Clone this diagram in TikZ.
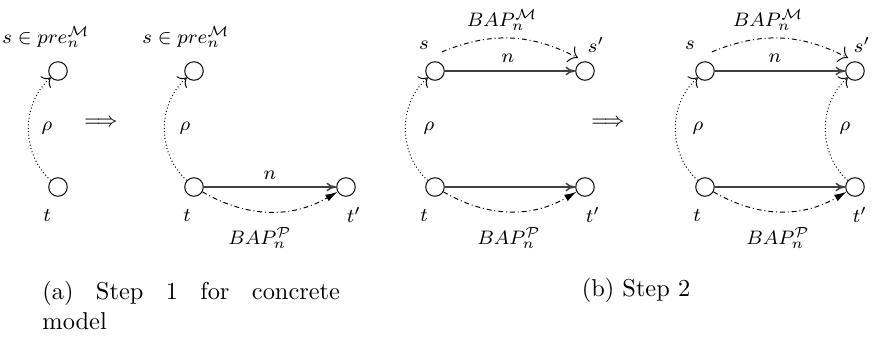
\documentclass[tikz,border=0pt]{standalone}
\usepackage{amsmath}
\usetikzlibrary{arrows.meta,positioning}

\tikzset{
  state/.style={circle, draw, minimum size=7.6pt, inner sep=0pt},
  lbl/.style={font=\footnotesize},
  trans/.style={-{To[length=4pt,width=3.5pt]}, draw=black!75, semithick},
  rho/.style={-{To[length=3pt]}, densely dotted, bend left=48},
  bapm/.style={-{To[length=3.5pt]}, dash pattern=on 2pt off 1.2pt on 0.4pt off 1.2pt, bend left=25},
  bapp/.style={-{Latex[length=5pt,width=3pt]}, dash pattern=on 2pt off 1.2pt on 0.4pt off 1.2pt, bend right=30},
}

\begin{document}
\begin{tikzpicture}[x=0.41pt, y=0.41pt]
  \useasboundingbox (0,0) rectangle (873,336);

  % (a) step 1
  \node[state] (a1s) at (58,265) {};
  \node[state] (a1t) at (58,149) {};
  \draw[rho] (a1t) to (a1s);
  \node[lbl] (a1pre) at (46,299) {$s \in pre_n^{\mathcal{M}}$};
  \node[lbl] (a1rho) at (47,208) {$\rho$};
  \node[lbl] (a1tl) at (47,121) {$t$};

  \node[lbl] (aimp) at (101,213) {$\Longrightarrow$};

  \node[state] (a2s) at (194,265) {};
  \node[state] (a2t) at (194,149) {};
  \node[state] (a2tp) at (346,149) {};
  \draw[rho] (a2t) to (a2s);
  \draw[trans] (a2t) -- (a2tp);
  \draw[bapp] (a2t) to (a2tp);
  \node[lbl] (a2pre) at (186,299) {$s \in pre_n^{\mathcal{M}}$};
  \node[lbl] (a2rho) at (185,208) {$\rho$};
  \node[lbl] (a2tl) at (187,121) {$t$};
  \node[lbl] (a2tpl) at (354,121) {$t'$};
  \node[lbl] (a2n) at (270,161) {$n$};
  \node[lbl] (a2bap) at (260,98) {$BAP_n^{\mathcal{P}}$};

  % (b) step 2
  \node[state] (b1s) at (435,265) {};
  \node[state] (b1sp) at (585,265) {};
  \node[state] (b1t) at (435,149) {};
  \node[state] (b1tp) at (585,149) {};
  \draw[trans] (b1s) -- (b1sp);
  \draw[trans] (b1t) -- (b1tp);
  \draw[rho] (b1t) to (b1s);
  \draw[bapm] ([yshift=5pt]b1s.north east) to ([yshift=2.5pt]b1sp.north west);
  \draw[bapp] (b1t) to (b1tp);
  \node[lbl] (b1bap) at (502,316) {$BAP_n^{\mathcal{M}}$};
  \node[lbl] (b1sl) at (424,291) {$s$};
  \node[lbl] (b1spl) at (596,291) {$s'$};
  \node[lbl] (b1n) at (508,278) {$n$};
  \node[lbl] (b1rho) at (429,208) {$\rho$};
  \node[lbl] (b1tl) at (424,121) {$t$};
  \node[lbl] (b1tpl) at (593,121) {$t'$};
  \node[lbl] (b1bapp) at (509,98) {$BAP_n^{\mathcal{P}}$};

  \node[lbl] (bimp) at (608,213) {$\Longrightarrow$};

  \node[state] (b2s) at (705,265) {};
  \node[state] (b2sp) at (855,265) {};
  \node[state] (b2t) at (705,149) {};
  \node[state] (b2tp) at (855,149) {};
  \draw[trans] (b2s) -- (b2sp);
  \draw[trans] (b2t) -- (b2tp);
  \draw[rho] (b2t) to (b2s);
  \draw[rho] (b2tp) to (b2sp);
  \draw[bapm] ([yshift=5pt]b2s.north east) to ([yshift=2.5pt]b2sp.north west);
  \draw[bapp] (b2t) to (b2tp);
  \node[lbl] (b2bap) at (768,316) {$BAP_n^{\mathcal{M}}$};
  \node[lbl] (b2sl) at (690,291) {$s$};
  \node[lbl] (b2spl) at (862,291) {$s'$};
  \node[lbl] (b2n) at (775,278) {$n$};
  \node[lbl] (b2rho) at (698,208) {$\rho$};
  \node[lbl] (b2rhor) at (845,208) {$\rho$};
  \node[lbl] (b2tl) at (697,121) {$t$};
  \node[lbl] (b2tpl) at (860,121) {$t'$};
  \node[lbl] (b2bapp) at (778,98) {$BAP_n^{\mathcal{P}}$};

  % captions
  \node[anchor=north west, text width=122pt, inner sep=0pt] (capa) at (42,55)
    {(a)\hfill Step\hfill 1\hfill for\hfill concrete\\model};
  \node (capb) at (636,46) {(b) Step 2};
\end{tikzpicture}
\end{document}
